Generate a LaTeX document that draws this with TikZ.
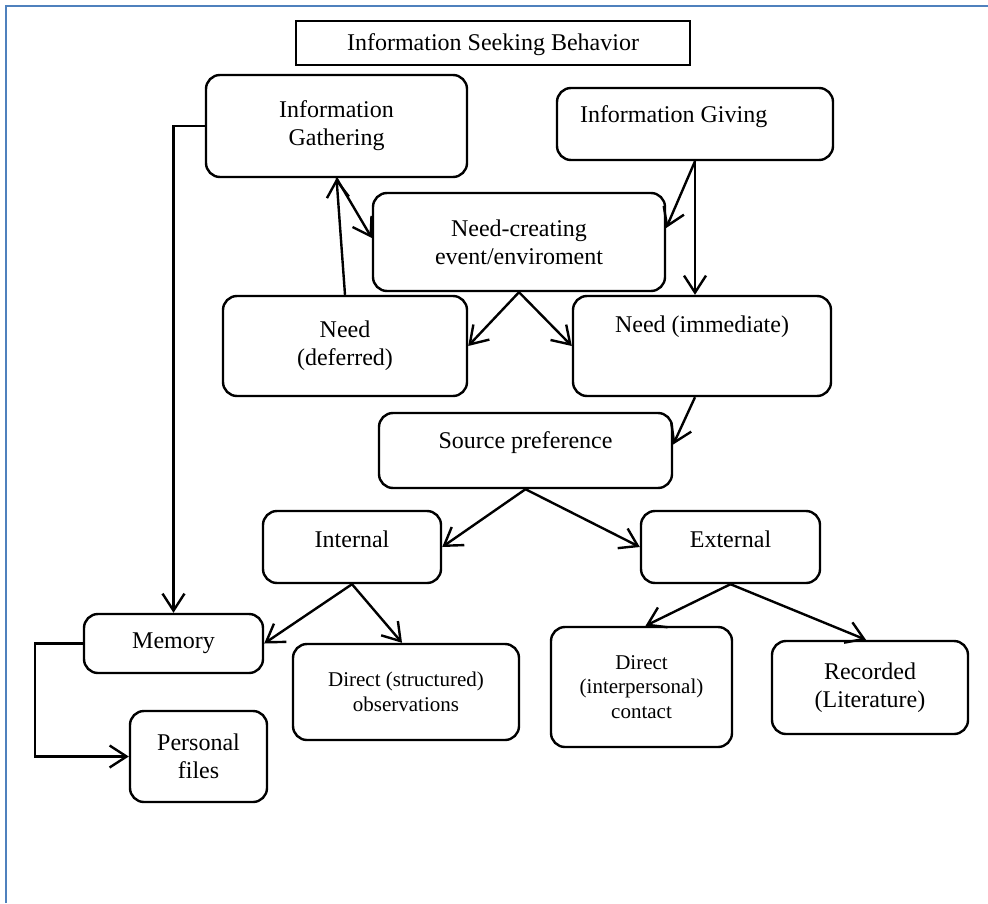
\documentclass[tikz,border=0pt]{standalone}
\usepackage{fontspec}
\setmainfont{Liberation Serif}
\usetikzlibrary{arrows.meta}
\definecolor{framecol}{RGB}{79,129,189}
\tikzset{
	box/.style={draw, rounded corners=7pt, line width=1.2pt, align=center, inner sep=2pt, font=\fontsize{12}{14}\selectfont},
	smalltext/.style={font=\fontsize{10.5}{12.2}\selectfont},
	lift/.style={text height=8pt, text depth=#1},
	arr/.style={-{Straight Barb[length=8.5pt,width=11pt]}, line width=1.2pt},
}
\begin{document}
\begin{tikzpicture}[x=0.5pt,y=-0.5pt]
		\useasboundingbox (0,0) rectangle (988,903);
		\draw[framecol, line width=1.2pt] (6,903) -- (6,6) -- (988,6);
		\node[draw, line width=0.9pt, minimum width=197pt, minimum height=22pt, inner sep=2pt, text height=9pt, text depth=1.5pt, font=\fontsize{12}{14}\selectfont] (title) at (493,43) {Information Seeking Behavior};
		\node[box, minimum width=130.5pt, minimum height=51pt] (gather) at (336.5,126) {Information\\Gathering};
		\node[box, lift=9.4pt, minimum height=36pt, text width=115pt, align=flush left, inner xsep=11.5pt] (giving) at (695,124) {Information Giving};
		\node[box, minimum width=146pt, minimum height=49pt] (needev) at (519,242) {Need-creating\\event/enviroment};
		\node[box, minimum width=122pt, minimum height=50pt] (deferred) at (345,346) {Need\\(deferred)};
		\node[box, lift=22pt, minimum width=129pt, minimum height=50pt] (immediate) at (702,346) {Need (immediate)};
		\node[box, lift=10.5pt, minimum width=146.5pt, minimum height=37.5pt] (source) at (525.5,450.5) {Source preference};
		\node[box, lift=8pt, minimum width=89pt, minimum height=36pt] (internal) at (352,547) {Internal};
		\node[box, lift=8pt, minimum width=89.5pt, minimum height=36pt] (external) at (730.5,547) {External};
		\node[box, minimum width=89.5pt, minimum height=29.5pt] (memory) at (173.5,643.5) {Memory};
		\node[box, minimum width=68.5pt, minimum height=45.5pt] (personal) at (198.5,756.5) {Personal\\files};
		\node[box, smalltext, minimum width=113pt, minimum height=48pt] (observ) at (406,692) {Direct (structured)\\observations};
		\node[box, smalltext, minimum width=90.5pt, minimum height=60pt] (contact) at (641.5,687) {Direct\\(interpersonal)\\contact};
		\node[box, minimum width=98pt, minimum height=46.5pt] (recorded) at (870,687.5) {Recorded\\(Literature)};
		\draw[arr] (gather.west) -| (memory.north);
		\draw[arr] (deferred.north) -- (gather.south);
		\draw[arr] (gather.south) -- ([yshift=2pt]needev.west);
		\draw[arr] (giving.south) -- ([yshift=7pt]needev.east);
		\draw[arr] (giving.south) -- (giving.south |- immediate.north);
		\draw[arr] (needev.south) -- (deferred.east);
		\draw[arr] (needev.south) -- (immediate.west);
		\draw[arr] ([xshift=-3.5pt]immediate.south) -- ([yshift=3pt]source.east);
		\draw[arr] (source.south) -- (internal.east);
		\draw[arr] (source.south) -- (external.west);
		\draw[arr] (internal.south) -- (memory.east);
		\draw[arr] (internal.south) -- ([xshift=-2pt]observ.north);
		\draw[arr] (external.south) -- ([xshift=2pt]contact.north);
		\draw[arr] (external.south) -- ([xshift=-2pt]recorded.north);
		\draw[arr] (memory.west) -- ++(-48,0) |- (personal.west);
	\end{tikzpicture}
\end{document}
